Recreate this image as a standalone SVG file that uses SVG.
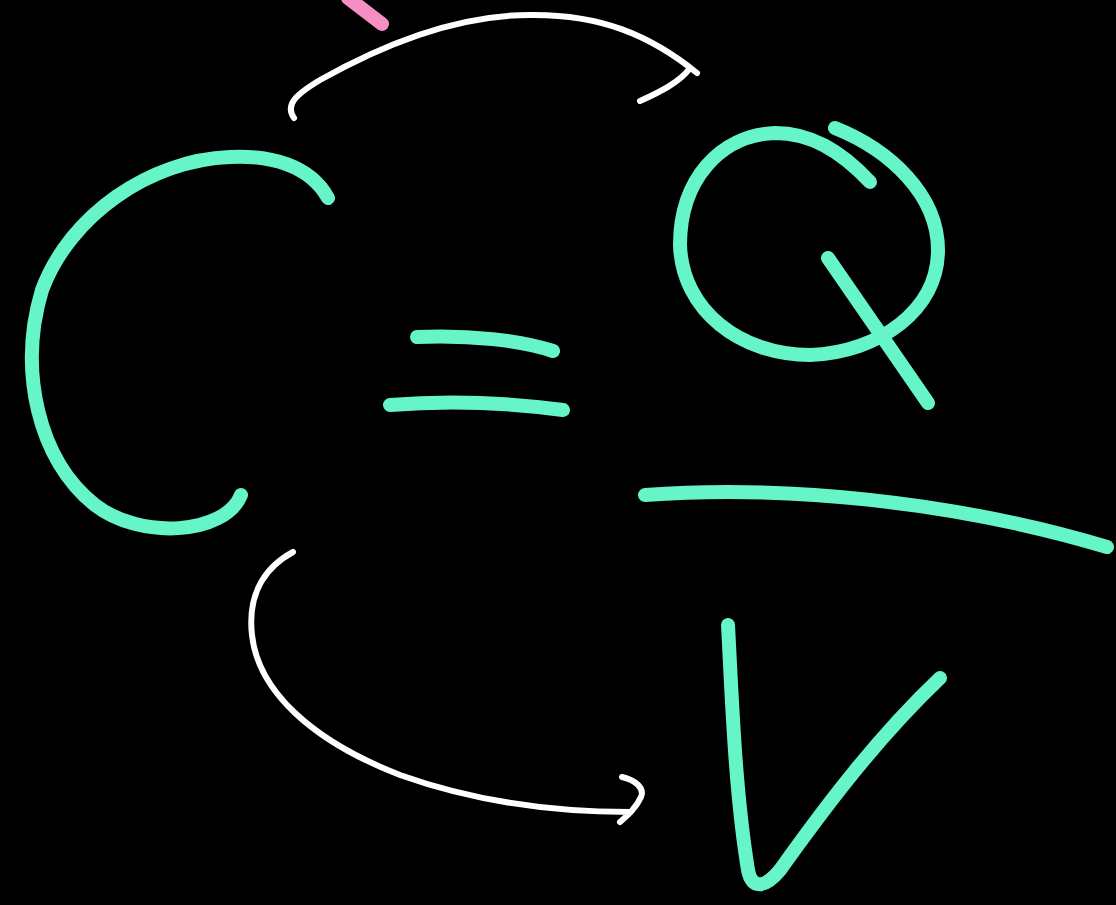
<svg xmlns="http://www.w3.org/2000/svg" width="1116" height="905" viewBox="0 0 1116 905">
<style>
.t{fill:none;stroke:#66f5c8;stroke-width:14;stroke-linecap:round;stroke-linejoin:round}
.w{fill:none;stroke:#ffffff;stroke-width:6;stroke-linecap:round;stroke-linejoin:round}
.p{fill:none;stroke:#f58fc3;stroke-width:14;stroke-linecap:round}
</style>
<rect width="1116" height="905" fill="#000000"/>
<path class="p" d="M348,-2 L382,24"/>
<g id="arrows">
<path class="w" d="M294,118 C285,105 295,95 320,80 C400,35 470,15 530,15 C600,14 650,35 697,73 M690,68 C680,82 660,92 640,101"/>
<path class="w" d="M293,552 C260,570 248,600 252,635 C258,690 310,740 400,775 C470,800 550,812 630,812 M622,777 C635,780 645,788 641,797 C636,808 628,815 620,822"/>
</g>
<g id="C"><path class="t" d="M328,198 C310,165 270,155 230,157 C150,160 70,215 42,290 C18,370 38,460 95,505 C140,540 225,535 241,495"/></g>
<g id="equals">
<path class="t" d="M417,337 C470,335 520,340 553,351"/>
<path class="t" d="M390,405 C450,400 510,403 563,410"/>
</g>
<g id="Q">
<path class="t" d="M870,182 C840,150 810,133 775,133 C720,135 680,180 680,245 C682,310 740,355 810,355 C880,352 938,310 938,250 C938,195 890,150 835,128"/>
<path class="t" d="M828,258 L928,403"/>
</g>
<g id="fraction"><path class="t" d="M645,495 C780,485 950,500 1107,547"/></g>
<g id="V"><path class="t" d="M728,625 C732,700 735,790 748,870 C752,890 765,888 780,870 C830,800 880,735 940,678"/></g>
</svg>
